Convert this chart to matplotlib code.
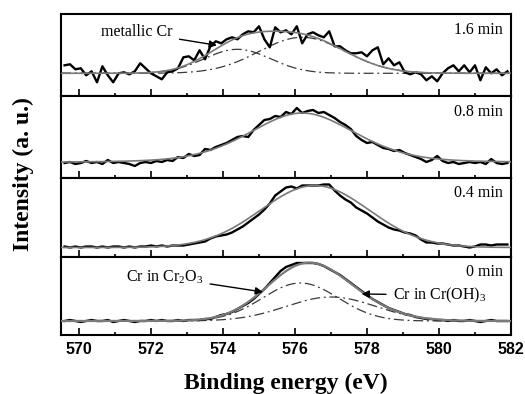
import numpy as np
import matplotlib
matplotlib.use("Agg")
import matplotlib.pyplot as plt
from matplotlib.ticker import MultipleLocator

plt.rcParams['mathtext.fontset'] = 'custom'
plt.rcParams['mathtext.rm'] = 'Liberation Serif'

# ---- data (intensity in arbitrary units above baseline) ----
energy = np.linspace(569.6, 581.9, 83)

int_16 = [8, 9, 4, 5, -2, 2, -9, 7, -2, -9,
          0, 1, -1, 2, 10, 5, 0, -3, -6, 1,
          2, 5, 16, 17, 13, 23, 14, 27, 32, 30,
          34, 36, 34, 39, 42, 41, 47, 34, 26, 46,
          41, 43, 39, 47, 30, 39, 41, 38, 36, 42,
          27, 27, 23, 20, 20, 21, 17, 23, 26, 9,
          15, 8, 11, 1, -1, 1, -1, -7, -3, -8,
          0, 5, 8, 2, 8, 1, 8, -7, 6, 0,
          4, -2, 2]
int_08 = [0, 1, -1, 0, 2, 0, 1, -1, 3, 0,
          1, 0, -1, -3, 0, 1, 0, 2, 1, 3,
          2, 6, 5, 9, 7, 8, 14, 13, 16, 18,
          20, 23, 26, 27, 26, 33, 38, 43, 44, 47,
          46, 51, 49, 55, 50, 52, 53, 50, 51, 48,
          45, 41, 38, 34, 27, 23, 20, 21, 18, 15,
          14, 12, 13, 10, 8, 6, 4, 1, 3, 7,
          2, 0, 1, -1, 0, 1, 0, 1, -1, 4,
          0, -1, 0]
int_04 = [1, 0, 1, 0, 1, 1, 0, 1, 0, 1,
          1, 0, 1, 0, 1, 1, 2, 1, 2, 1,
          2, 2, 2, 3, 4, 5, 6, 9, 11, 12,
          13, 15, 18, 21, 25, 29, 33, 38, 44, 52,
          56, 60, 61, 59, 62, 62, 62, 62, 63, 63,
          57, 52, 48, 45, 40, 37, 34, 30, 26, 23,
          20, 18, 17, 15, 14, 12, 8, 5, 5, 4,
          4, 3, 2, 2, 1, 0, 1, 3, 3, 2,
          3, 3, 3]
int_00 = [0, 1, 0, -1, 0, 1, 0, 0, 1, -1,
          0, 1, 0, -1, 0, 0, 1, 0, 1, 0,
          0, 1, 0, 1, 1, 1, 2, 2, 4, 6,
          7, 9, 12, 15, 18, 22, 27, 32, 38, 44,
          50, 54, 56, 58, 58, 58, 58, 57, 55, 52,
          49, 46, 42, 38, 34, 30, 26, 22, 19, 16,
          13, 11, 9, 7, 6, 4, 3, 2, 2, 1,
          1, 0, 1, 0, 0, 1, 0, -1, 0, 1,
          0, 0, 0]

# fitted peak components (centre eV, height, sigma eV)
fit16_centers = [574.4, 576.2]
fit16_heights = [24, 36]
fit16_sigmas = [0.92, 1.2]

fit08_center, fit08_height, fit08_fwhm, fit08_lfrac = 576.2, 50, 3.5, 0.3

fit04_center, fit04_height, fit04_sigma = 576.55, 62, 1.5

fit00_centers = [576.15, 577.0]
fit00_heights = [38, 24]
fit00_sigmas = [1.05, 1.25]

panel_labels = ["1.6 min", "0.8 min", "0.4 min", "0 min"]
ylims = [(-22.7, 59.3), (-15, 67), (-9.5, 69.5), (-14, 64)]
xticks = [570, 572, 574, 576, 578, 580, 582]


def gauss(x, c, h, s):
    return h * np.exp(-(x - c) ** 2 / (2 * s ** 2))


def pvoigt(x, c, h, w, m):
    u = 4 * (x - c) ** 2 / w ** 2
    return h * ((1 - m) * np.exp(-np.log(2) * u) + m / (1 + u))


xs = np.linspace(569.5, 582.0, 500)

fig = plt.figure(figsize=(5.25, 3.94), dpi=100)
gs = fig.add_gridspec(4, 1, left=61 / 525, right=511 / 525, top=1 - 14 / 394,
                      bottom=1 - 335 / 394, hspace=0, height_ratios=[82, 82, 79, 78])
axes = [fig.add_subplot(gs[i]) for i in range(4)]

data_kw = dict(color='black', lw=1.7, zorder=3)
fit_kw = dict(color='#7a7a7a', lw=1.2, zorder=4)
comp_kw = dict(color='#3a3a3a', lw=0.9, ls=(0, (8, 3, 1.5, 3)), zorder=2)
serif = 'Liberation Serif'

# panel 1.6 min
ax = axes[0]
ax.plot(energy, int_16, **data_kw)
comps = [gauss(xs, c, h, s) for c, h, s in zip(fit16_centers, fit16_heights, fit16_sigmas)]
for cp in comps:
    ax.plot(xs, cp, **comp_kw)
ax.plot(xs, sum(comps), **fit_kw)
ax.annotate('metallic Cr', xy=(573.83, 28), xytext=(572.6, 41), ha='right', va='center',
            fontsize=11.5, family=serif,
            arrowprops=dict(arrowstyle='-|>', color='black', lw=1.0, mutation_scale=11,
                            shrinkA=3, shrinkB=0), zorder=6)

# panel 0.8 min
ax = axes[1]
ax.plot(energy, int_08, **data_kw)
ax.plot(xs, pvoigt(xs, fit08_center, fit08_height, fit08_fwhm, fit08_lfrac), **fit_kw)

# panel 0.4 min
ax = axes[2]
ax.plot(energy, int_04, **data_kw)
ax.plot(xs, gauss(xs, fit04_center, fit04_height, fit04_sigma), **fit_kw)

# panel 0 min
ax = axes[3]
ax.plot(energy, int_00, **data_kw)
comps = [gauss(xs, c, h, s) for c, h, s in zip(fit00_centers, fit00_heights, fit00_sigmas)]
for cp in comps:
    ax.plot(xs, cp, **comp_kw)
ax.plot(xs, sum(comps), color='#7a7a7a', lw=1.6, zorder=4)
ax.annotate(r'Cr in Cr$_\mathregular{2}$O$_\mathregular{3}$', xy=(575.11, 29), xytext=(573.45, 44),
            ha='right', va='center', fontsize=11.5, family=serif,
            arrowprops=dict(arrowstyle='-|>', color='black', lw=1.0, mutation_scale=11,
                            shrinkA=3, shrinkB=0), zorder=6)
ax.annotate(r'Cr in Cr(OH)$_\mathregular{3}$', xy=(577.85, 27), xytext=(578.72, 26),
            ha='left', va='center', fontsize=11.5, family=serif,
            arrowprops=dict(arrowstyle='-|>', color='black', lw=1.0, mutation_scale=11,
                            shrinkA=3, shrinkB=0), zorder=6)

for i, ax in enumerate(axes):
    ax.set_xlim(569.5, 582.0)
    ax.set_ylim(*ylims[i])
    ax.set_yticks([])
    ax.set_xticks(xticks)
    ax.xaxis.set_minor_locator(MultipleLocator(1))
    ax.tick_params(axis='x', which='major', direction='in', length=5, width=1.2, top=False)
    ax.tick_params(axis='x', which='minor', direction='in', length=2.5, width=1.2, top=False)
    for sp in ax.spines.values():
        sp.set_linewidth(1.5)
    ax.text(0.982, 0.81, panel_labels[i], transform=ax.transAxes, ha='right', va='center',
            fontsize=11.5, family=serif)
    if i < 3:
        ax.tick_params(axis='x', labelbottom=False)
    else:
        ax.tick_params(axis='x', pad=5)
        for lab in ax.get_xticklabels():
            lab.set_fontfamily('Liberation Sans')
            lab.set_fontweight('bold')
            lab.set_fontsize(11.5)

fig.text(0.5447, 0.012, 'Binding energy (eV)', ha='center', va='baseline',
         fontsize=17, fontweight='bold', family=serif)
fig.text(0.045, 0.557, 'Intensity (a. u.)', rotation=90, ha='center', va='center',
         fontsize=17, fontweight='bold', family=serif)

fig.savefig('out.png', dpi=100)
